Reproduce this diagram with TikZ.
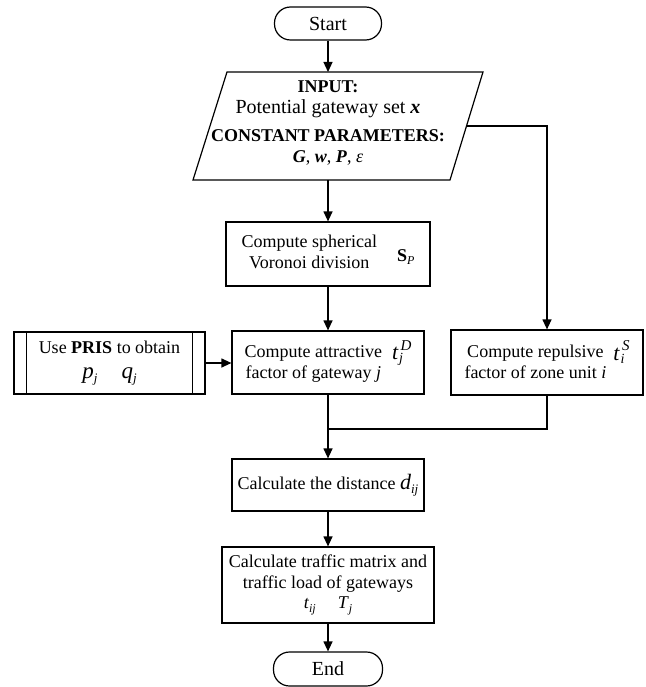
\documentclass[tikz,border=0pt]{standalone}
\usepackage{fontspec}
\setmainfont{Liberation Serif}
\usetikzlibrary{arrows.meta}
\newcommand{\fsz}[1]{\fontsize{#1}{#1}\selectfont}
\newcommand{\tsym}[2]{{\fsz{22}\textit{t}}\kern0.5pt\raisebox{-3pt}{\shortstack[l]{\kern1.5pt\fsz{15}\textit{#2}\\\fsz{14}\textit{#1}}}}
\newcommand{\SPsym}{{\fsz{18}\textbf{S}}\raisebox{-3pt}{\fsz{12}\textit{P}}}
\newcommand{\subsym}[4]{{\fsz{#1}\textit{#2}}\raisebox{-3.5pt}{\fsz{#3}\textit{#4}}}
\begin{document}
\begin{tikzpicture}[x=1pt,y=-1pt,
  every node/.style={font=\fontsize{18}{20.5}\selectfont, inner sep=0pt},
  box/.style={draw, line width=1.2pt, align=center},
  term/.style={draw, line width=1.2pt, rounded corners=16pt, font=\fontsize{20}{22}\selectfont},
  line/.style={line width=1.2pt},
  arr/.style={line width=1.2pt, -{Triangle[length=10pt,width=9pt]}}]
\useasboundingbox (0,0) rectangle (645,687);

% terminals
\node[term, minimum width=107pt, minimum height=33pt] (start) at (328,23.5) {Start};
\node[term, minimum width=109pt, minimum height=34pt] (end) at (328,669) {End};

% input parallelogram
\draw[line] (227,72) -- (483,72) -- (450,180) -- (193,180) -- cycle;
\coordinate (inTop) at (328,72);
\coordinate (inBot) at (328,180);
\coordinate (inRight) at (466.5,126);
\node[align=center] (input) at (328,123) {\textbf{INPUT:}\\{\fontsize{20}{20.5}\selectfont Potential gateway set \textbf{\textit{x}}}\\[8pt]\textbf{CONSTANT PARAMETERS:}\\\textbf{\textit{G}}, \textbf{\textit{w}}, \textbf{\textit{P}}, \textit{ε}};

% process boxes
\node[box, minimum width=204pt, minimum height=64pt] (vor) at (328,254)
  {\begin{tabular}{@{}c@{}}Compute spherical\\Voronoi division\end{tabular}\hspace{20pt}\raisebox{-3pt}{\SPsym}};
\node[box, minimum width=192pt, minimum height=63pt] (attr) at (328,362.5)
  {\begin{tabular}{@{}c@{}}Compute attractive\\factor of gateway \textit{j}\end{tabular}\hspace{10pt}\raisebox{8pt}{\tsym{j}{D}}};
\node[box, minimum width=191pt, minimum height=62pt] (pris) at (109.5,363)
  {Use \textbf{PRIS} to obtain\\[5pt]\subsym{23}{p}{13}{j}\hspace{24pt}\subsym{23}{q}{13}{j}};
\draw[line] ([xshift=13pt]pris.north west) -- ([xshift=13pt]pris.south west);
\draw[line] ([xshift=-13pt]pris.north east) -- ([xshift=-13pt]pris.south east);
\node[box, minimum width=192pt, minimum height=65pt] (rep) at (547,362.5)
  {\begin{tabular}{@{}c@{}}Compute repulsive\\factor of zone unit \textit{i}\end{tabular}\hspace{7pt}\raisebox{8pt}{\tsym{i}{S}}};
\node[box, minimum width=192pt, minimum height=52pt] (dist) at (328,485)
  {Calculate the distance \subsym{22}{d}{13}{ij}};
\node[box, minimum width=212pt, minimum height=76pt] (traf) at (328,585)
  {Calculate traffic matrix and\\traffic load of gateways\\\subsym{18}{t}{12}{ij}\hspace{22pt}\subsym{18}{T}{12}{j}};

% connectors
\coordinate (merge) at (328,429);
\draw[arr] (start) -- (inTop);
\draw[arr] (inBot) -- (vor);
\draw[arr] (inRight) -| (rep);
\draw[arr] (vor) -- (attr);
\draw[arr] (pris.east) -- (pris.east -| attr.west);
\draw[arr] (attr) -- (dist);
\draw[line] (rep) |- (merge);
\draw[arr] (dist) -- (traf);
\draw[arr] (traf) -- (end);
\end{tikzpicture}
\end{document}
